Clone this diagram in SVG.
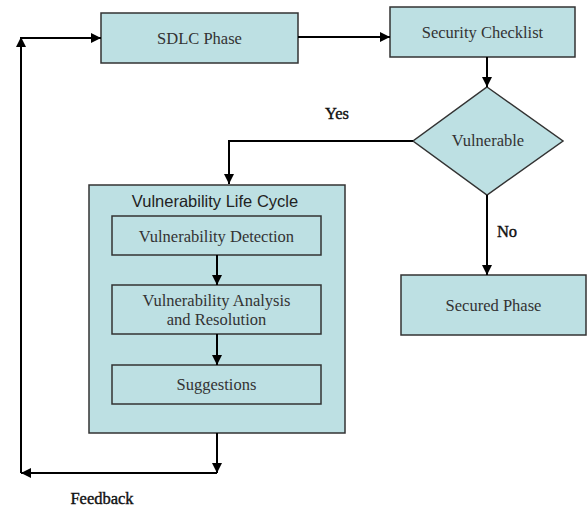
<svg xmlns="http://www.w3.org/2000/svg" width="588" height="508" viewBox="0 0 588 508">
<style>
.box{fill:#bde0e3;stroke:#333;stroke-width:1.5}
.t{font-family:"Liberation Serif","Times New Roman",serif;font-size:16.5px;fill:#333;text-anchor:middle}
.lbl{font-family:"Liberation Serif","Times New Roman",serif;font-size:16.5px;fill:#111;stroke:#111;stroke-width:0.4;text-anchor:middle}
.s{font-family:"Liberation Sans",Arial,sans-serif;font-size:16.5px;fill:#222;text-anchor:middle}
.c{fill:none;stroke:#000;stroke-width:2}
</style>
<defs>
<marker id="ah" viewBox="0 0 10 10" refX="10" refY="5" markerWidth="5" markerHeight="5" orient="auto" markerUnits="strokeWidth">
<path d="M0,0 L10,5 L0,10 z" fill="#000"/>
</marker>
</defs>
<rect width="588" height="508" fill="#fff"/>
<g id="sdlc"><rect class="box" x="101" y="13" width="197" height="50"/><text class="t" x="199.5" y="44">SDLC Phase</text></g>
<g id="checklist"><rect class="box" x="390" y="7" width="185" height="50"/><text class="t" x="482.5" y="38">Security Checklist</text></g>
<g id="vulnerable"><polygon class="box" points="487,87 563,141 487,195 413,141"/><text class="t" x="488" y="146">Vulnerable</text></g>
<g id="secured"><rect class="box" x="401" y="275" width="185" height="60"/><text class="t" x="493.5" y="311">Secured Phase</text></g>
<g id="lifecycle"><rect class="box" x="89" y="185" width="256" height="248"/><text class="s" x="215" y="207">Vulnerability Life Cycle</text></g>
<g id="detection"><rect class="box" x="112" y="216" width="209" height="39"/><text class="t" x="216.5" y="242">Vulnerability Detection</text></g>
<g id="analysis"><rect class="box" x="112" y="285" width="209" height="49"/><text class="t" x="216.5" y="306">Vulnerability Analysis</text><text class="t" x="216.5" y="325">and Resolution</text></g>
<g id="suggestions"><rect class="box" x="112" y="365" width="209" height="39"/><text class="t" x="216.5" y="390">Suggestions</text></g>
<g id="connectors">
<line class="c" x1="298" y1="37" x2="390" y2="37" marker-end="url(#ah)"/>
<line class="c" x1="487" y1="57" x2="487" y2="87" marker-end="url(#ah)"/>
<polyline class="c" points="413,141 229,141 229,184" marker-end="url(#ah)"/>
<line class="c" x1="487" y1="195" x2="487" y2="275" marker-end="url(#ah)"/>
<line class="c" x1="217" y1="255" x2="217" y2="285" marker-end="url(#ah)"/>
<line class="c" x1="217" y1="334" x2="217" y2="365" marker-end="url(#ah)"/>
<line class="c" x1="217" y1="433" x2="217" y2="473" marker-end="url(#ah)"/>
<line class="c" x1="217" y1="473" x2="21" y2="473" marker-end="url(#ah)"/>
<line class="c" x1="21" y1="473" x2="21" y2="37" marker-end="url(#ah)"/>
<line class="c" x1="20" y1="38" x2="101" y2="38" marker-end="url(#ah)"/>
<text class="lbl" x="337" y="119">Yes</text>
<text class="lbl" x="507" y="237">No</text>
<text class="lbl" x="102" y="504">Feedback</text>
</g>
</svg>
